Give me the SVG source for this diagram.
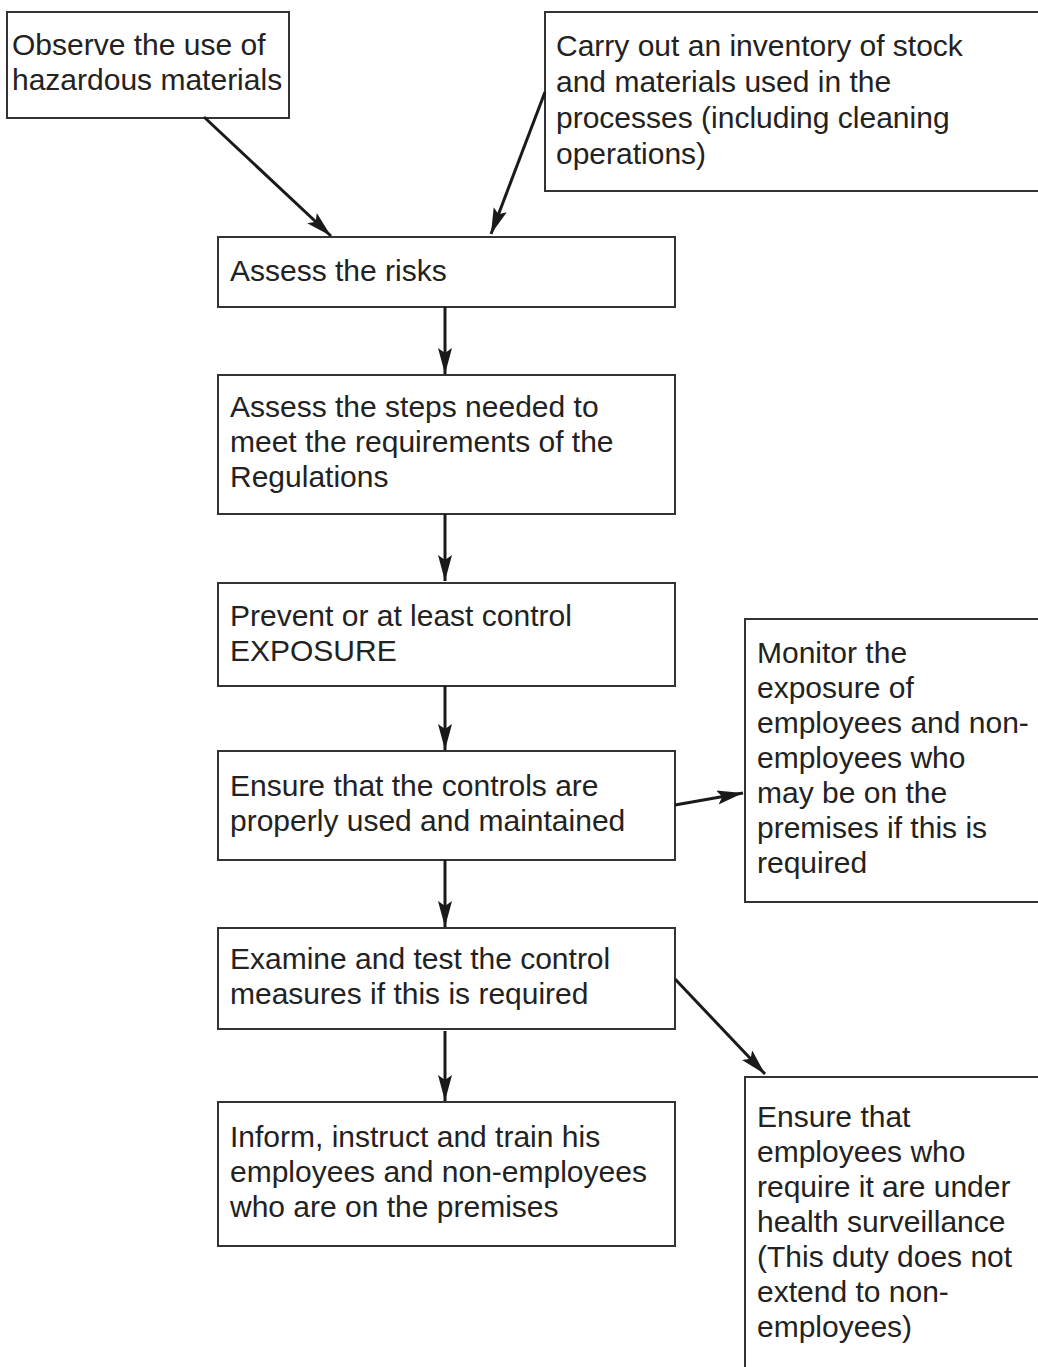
<svg xmlns="http://www.w3.org/2000/svg" width="1038" height="1367" viewBox="0 0 1038 1367">
<style>
rect.box{fill:#fff;stroke:#333;stroke-width:2}
text{font-family:"Liberation Sans",Arial,sans-serif;font-size:30px;fill:#222}
line.arr{stroke:#1a1a1a;stroke-width:3;marker-end:url(#ah)}
</style>
<defs>
<marker id="ah" markerUnits="userSpaceOnUse" markerWidth="28" markerHeight="16" refX="26" refY="7" orient="auto">
<path d="M0,0 L26,7 L0,14 L5,7 z" fill="#1a1a1a"/>
</marker>
</defs>
<rect width="1038" height="1367" fill="#fff"/>
<g id="n-observe">
<rect class="box" x="7" y="12" width="282" height="106"/>
<text x="12" y="55">Observe the use of</text>
<text x="12" y="90">hazardous materials</text>
</g>
<g id="n-inventory">
<rect class="box" x="545" y="12" width="503" height="179"/>
<text x="556" y="56">Carry out an inventory of stock</text>
<text x="556" y="92">and materials used in the</text>
<text x="556" y="128">processes (including cleaning</text>
<text x="556" y="164">operations)</text>
</g>
<g id="n-risks">
<rect class="box" x="218" y="237" width="457" height="70"/>
<text x="230" y="281">Assess the risks</text>
</g>
<g id="n-steps">
<rect class="box" x="218" y="375" width="457" height="139"/>
<text x="230" y="417">Assess the steps needed to</text>
<text x="230" y="452">meet the requirements of the</text>
<text x="230" y="487">Regulations</text>
</g>
<g id="n-prevent">
<rect class="box" x="218" y="583" width="457" height="103"/>
<text x="230" y="626">Prevent or at least control</text>
<text x="230" y="661">EXPOSURE</text>
</g>
<g id="n-ensure-controls">
<rect class="box" x="218" y="751" width="457" height="109"/>
<text x="230" y="796">Ensure that the controls are</text>
<text x="230" y="831">properly used and maintained</text>
</g>
<g id="n-monitor">
<rect class="box" x="745" y="619" width="303" height="283"/>
<text x="757" y="663">Monitor the</text>
<text x="757" y="698">exposure of</text>
<text x="757" y="733">employees and non-</text>
<text x="757" y="768">employees who</text>
<text x="757" y="803">may be on the</text>
<text x="757" y="838">premises if this is</text>
<text x="757" y="873">required</text>
</g>
<g id="n-examine">
<rect class="box" x="218" y="928" width="457" height="101"/>
<text x="230" y="969">Examine and test the control</text>
<text x="230" y="1004">measures if this is required</text>
</g>
<g id="n-inform">
<rect class="box" x="218" y="1102" width="457" height="144"/>
<text x="230" y="1147">Inform, instruct and train his</text>
<text x="230" y="1182">employees and non-employees</text>
<text x="230" y="1217">who are on the premises</text>
</g>
<g id="n-health">
<rect class="box" x="745" y="1077" width="303" height="300"/>
<text x="757" y="1127">Ensure that</text>
<text x="757" y="1162">employees who</text>
<text x="757" y="1197">require it are under</text>
<text x="757" y="1232">health surveillance</text>
<text x="757" y="1267">(This duty does not</text>
<text x="757" y="1302">extend to non-</text>
<text x="757" y="1337">employees)</text>
</g>
<g id="connectors">
<line class="arr" x1="204" y1="117" x2="331" y2="236"/>
<line class="arr" x1="545" y1="92" x2="491" y2="234"/>
<line class="arr" x1="445" y1="307" x2="445" y2="374"/>
<line class="arr" x1="445" y1="514" x2="445" y2="581"/>
<line class="arr" x1="445" y1="686" x2="445" y2="750"/>
<line class="arr" x1="445" y1="860" x2="445" y2="927"/>
<line class="arr" x1="445" y1="1031" x2="445" y2="1101"/>
<line class="arr" x1="675" y1="805" x2="743" y2="793"/>
<line class="arr" x1="675" y1="979" x2="765" y2="1074"/>
</g>
</svg>
